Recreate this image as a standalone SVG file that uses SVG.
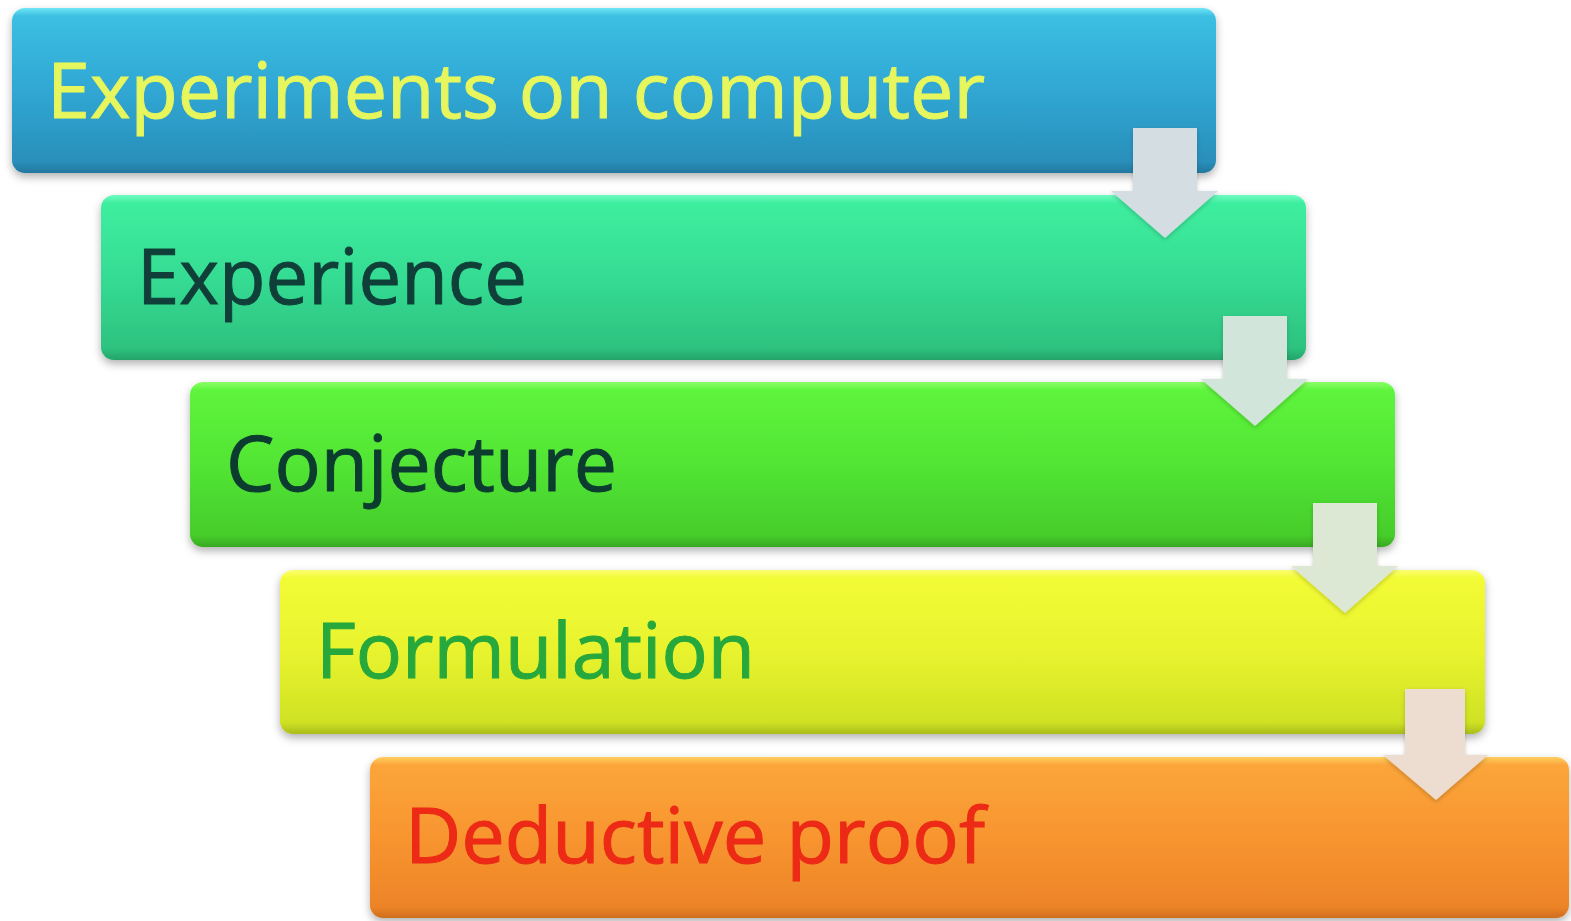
<svg xmlns="http://www.w3.org/2000/svg" width="1571" height="921" viewBox="0 0 1571 921">
  <defs>
    <filter id="shadow" x="-5%" y="-20%" width="110%" height="150%">
      <feDropShadow dx="0" dy="4" stdDeviation="4" flood-color="#000" flood-opacity="0.3"/>
    </filter>
    <filter id="arrowShadow" x="-30%" y="-20%" width="160%" height="150%">
      <feDropShadow dx="0" dy="2" stdDeviation="2" flood-color="#000" flood-opacity="0.2"/>
    </filter>
    <linearGradient id="gBlue" x1="0" y1="0" x2="0" y2="1">
      <stop offset="0" stop-color="#6fe6f5"/>
      <stop offset="0.05" stop-color="#3bbfe2"/>
      <stop offset="0.5" stop-color="#30a7d4"/>
      <stop offset="0.93" stop-color="#2a8fba"/>
      <stop offset="1" stop-color="#23789e"/>
    </linearGradient>
    <linearGradient id="gTeal" x1="0" y1="0" x2="0" y2="1">
      <stop offset="0" stop-color="#70fbc2"/>
      <stop offset="0.05" stop-color="#3eee9f"/>
      <stop offset="0.5" stop-color="#35dc93"/>
      <stop offset="0.93" stop-color="#2dc27f"/>
      <stop offset="1" stop-color="#24a36a"/>
    </linearGradient>
    <linearGradient id="gGreen" x1="0" y1="0" x2="0" y2="1">
      <stop offset="0" stop-color="#8cff6a"/>
      <stop offset="0.05" stop-color="#5ef43c"/>
      <stop offset="0.5" stop-color="#52e534"/>
      <stop offset="0.93" stop-color="#46cd2b"/>
      <stop offset="1" stop-color="#38a822"/>
    </linearGradient>
    <linearGradient id="gYellow" x1="0" y1="0" x2="0" y2="1">
      <stop offset="0" stop-color="#fbff70"/>
      <stop offset="0.05" stop-color="#f2fb35"/>
      <stop offset="0.5" stop-color="#e8f32e"/>
      <stop offset="0.93" stop-color="#cfe224"/>
      <stop offset="1" stop-color="#a9bc1c"/>
    </linearGradient>
    <linearGradient id="gOrange" x1="0" y1="0" x2="0" y2="1">
      <stop offset="0" stop-color="#ffcf60"/>
      <stop offset="0.05" stop-color="#fba53a"/>
      <stop offset="0.5" stop-color="#f8952f"/>
      <stop offset="0.93" stop-color="#ec8428"/>
      <stop offset="1" stop-color="#d06e1e"/>
    </linearGradient>
    <style>
      .box { filter: url(#shadow); }
      .label { font-family: "Open Sans", "Liberation Sans", sans-serif; font-size: 77px; stroke-width: 1; }
      .arrow { filter: url(#arrowShadow); }
    </style>
  </defs>

  <g id="node-experiments">
    <rect class="box" x="12" y="8" width="1204" height="165" rx="13" fill="url(#gBlue)"/>
    <text class="label" x="47" y="118" textLength="938" lengthAdjust="spacingAndGlyphs" fill="#e6f65c" stroke="#e6f65c">Experiments on computer</text>
  </g>
  <g id="node-experience">
    <rect class="box" x="101" y="195" width="1205" height="165" rx="13" fill="url(#gTeal)"/>
    <text class="label" x="137" y="304" textLength="390" lengthAdjust="spacingAndGlyphs" fill="#0f3f38" stroke="#0f3f38">Experience</text>
  </g>
  <g id="node-conjecture">
    <rect class="box" x="190" y="382" width="1205" height="165" rx="13" fill="url(#gGreen)"/>
    <text class="label" x="226" y="491" textLength="391" lengthAdjust="spacingAndGlyphs" fill="#0c3b30" stroke="#0c3b30">Conjecture</text>
  </g>
  <g id="node-formulation">
    <rect class="box" x="280" y="570" width="1205" height="164" rx="13" fill="url(#gYellow)"/>
    <text class="label" x="316" y="678" textLength="439" lengthAdjust="spacingAndGlyphs" fill="#26a83c" stroke="#26a83c">Formulation</text>
  </g>
  <g id="node-deductive-proof">
    <rect class="box" x="370" y="757" width="1199" height="161" rx="13" fill="url(#gOrange)"/>
    <text class="label" x="405" y="863" textLength="580" lengthAdjust="spacingAndGlyphs" fill="#ec2a16" stroke="#ec2a16">Deductive proof</text>
  </g>

  <g id="connectors">
    <!-- block arrows: stem 64 wide, head 108 wide -->
    <path class="arrow" d="M1133 128 H1197 V191 H1218 L1165 238 L1111 191 H1133 Z" fill="#d3dde2"/>
    <path class="arrow" d="M1223 316 H1287 V379 H1308 L1255 426 L1201 379 H1223 Z" fill="#d2e5da"/>
    <path class="arrow" d="M1313 503 H1377 V566 H1398 L1345 613 L1291 566 H1313 Z" fill="#dde8d4"/>
    <path class="arrow" d="M1405 689 H1465 V755 H1488 L1436 800 L1383 755 H1405 Z" fill="#eddcd0"/>
  </g>
</svg>
